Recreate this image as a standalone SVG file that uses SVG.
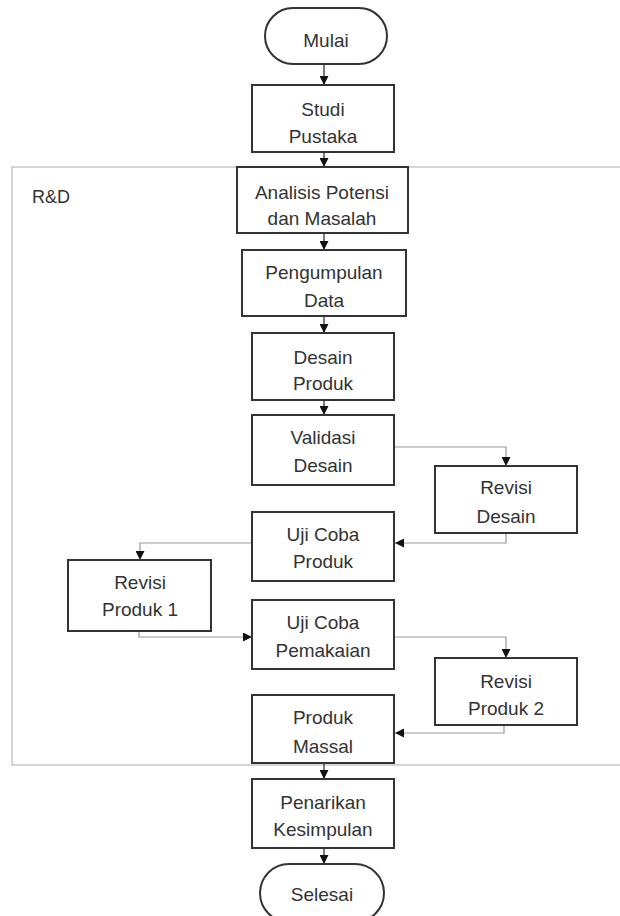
<svg xmlns="http://www.w3.org/2000/svg" width="620" height="916" viewBox="0 0 620 916">
<style>
.box{fill:#fff;stroke:#333;stroke-width:2}
.frame{fill:none;stroke:#c8c8c8;stroke-width:1.5}
.t{font-family:"Liberation Sans",Arial,sans-serif;font-size:19px;fill:#333;text-anchor:middle}
.lbl{font-family:"Liberation Sans",Arial,sans-serif;font-size:18px;fill:#333}
.main{fill:none;stroke:#222;stroke-width:1.2;marker-end:url(#ah)}
.side{fill:none;stroke:#999;stroke-width:1.2;marker-end:url(#ah)}
</style>
<defs>
<marker id="ah" viewBox="0 0 10 10" refX="10" refY="5" markerWidth="9" markerHeight="9" markerUnits="userSpaceOnUse" orient="auto">
<path d="M0,0 L10,5 L0,10 z" fill="#111"/>
</marker>
</defs>
<rect width="620" height="916" fill="#fff"/>
<g id="rnd-frame">
<path class="frame" d="M622,167 H12 V765 H622"/>
<text class="lbl" x="32" y="203">R&amp;D</text>
</g>
<g id="connectors">
<path class="main" d="M324,64 V85"/>
<path class="main" d="M324,152 V167"/>
<path class="main" d="M324,233 V250"/>
<path class="main" d="M324,316 V333"/>
<path class="main" d="M324,400 V415"/>
<path class="side" d="M394,447 H506 V466"/>
<path class="side" d="M506,533 V543 H395"/>
<path class="side" d="M252,543 H140 V560"/>
<path class="side" d="M139,631 V637 H252"/>
<path class="side" d="M394,637 H506 V658"/>
<path class="side" d="M504,725 V733 H395"/>
<path class="main" d="M324,763 V779"/>
<path class="main" d="M324,848 V864"/>
</g>
<g id="mulai"><rect class="box" x="265" y="8" width="122" height="56" rx="28"/><text class="t" x="326" y="47">Mulai</text></g>
<g id="studi-pustaka"><rect class="box" x="252" y="85" width="142" height="67"/><text class="t" x="323" y="116">Studi</text><text class="t" x="323" y="143">Pustaka</text></g>
<g id="analisis"><rect class="box" x="237" y="167" width="171" height="66"/><text class="t" x="322" y="199">Analisis Potensi</text><text class="t" x="322" y="225">dan Masalah</text></g>
<g id="pengumpulan"><rect class="box" x="242" y="250" width="164" height="66"/><text class="t" x="324" y="279">Pengumpulan</text><text class="t" x="324" y="307">Data</text></g>
<g id="desain-produk"><rect class="box" x="252" y="333" width="142" height="67"/><text class="t" x="323" y="364">Desain</text><text class="t" x="323" y="390">Produk</text></g>
<g id="validasi-desain"><rect class="box" x="252" y="415" width="142" height="70"/><text class="t" x="323" y="444">Validasi</text><text class="t" x="323" y="472">Desain</text></g>
<g id="revisi-desain"><rect class="box" x="435" y="466" width="142" height="67"/><text class="t" x="506" y="494">Revisi</text><text class="t" x="506" y="523">Desain</text></g>
<g id="uji-coba-produk"><rect class="box" x="252" y="512" width="142" height="69"/><text class="t" x="323" y="541">Uji Coba</text><text class="t" x="323" y="568">Produk</text></g>
<g id="revisi-produk-1"><rect class="box" x="68" y="560" width="143" height="71"/><text class="t" x="140" y="589">Revisi</text><text class="t" x="140" y="616">Produk 1</text></g>
<g id="uji-coba-pemakaian"><rect class="box" x="252" y="600" width="142" height="69"/><text class="t" x="323" y="629">Uji Coba</text><text class="t" x="323" y="657">Pemakaian</text></g>
<g id="revisi-produk-2"><rect class="box" x="435" y="658" width="142" height="67"/><text class="t" x="506" y="688">Revisi</text><text class="t" x="506" y="715">Produk 2</text></g>
<g id="produk-massal"><rect class="box" x="252" y="695" width="142" height="68"/><text class="t" x="323" y="724">Produk</text><text class="t" x="323" y="753">Massal</text></g>
<g id="penarikan"><rect class="box" x="252" y="779" width="142" height="69"/><text class="t" x="323" y="809">Penarikan</text><text class="t" x="323" y="836">Kesimpulan</text></g>
<g id="selesai"><rect class="box" x="260" y="864" width="124" height="58" rx="29"/><text class="t" x="322" y="901">Selesai</text></g>
</svg>
